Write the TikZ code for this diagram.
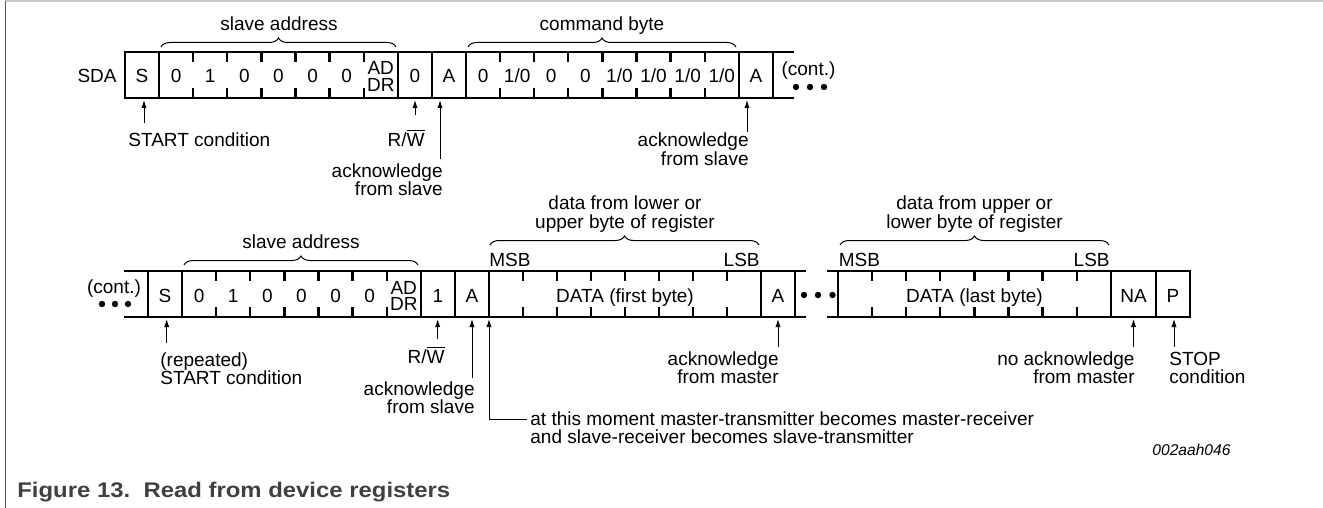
\documentclass[tikz,border=0pt]{standalone}
\usepackage{fontspec}
\setmainfont{Liberation Sans}
\usetikzlibrary{arrows.meta,decorations.pathreplacing}
\definecolor{topgray}{RGB}{200,200,200}
\definecolor{leftgray}{RGB}{85,85,85}
\definecolor{capgray}{RGB}{64,64,64}
\begin{document}
\begin{tikzpicture}[x=0.5pt,y=-0.5pt,
  bus/.style={line width=1.15pt,line cap=rect},
  tick/.style={line width=1.15pt},
  arr/.style={line width=0.5pt,-{Latex[length=4pt,width=2.6pt]}},
  brc/.style={line width=0.5pt,decorate,decoration={brace,amplitude=4.5pt}},
  txt/.style={inner sep=0pt,font=\fontsize{9.5pt}{11pt}\selectfont},
  cell/.style={txt,anchor=base}]
\useasboundingbox (0,0) rectangle (1323,508);
% frame
\draw[topgray,line width=1pt] (5,1.5) -- (1323,1.5);
\draw[leftgray,line width=0.7pt] (5.7,1) -- (5.7,508);

% ---------------- top row ----------------
\node[txt,anchor=base east] (sda) at (117,82.5) {SDA};
\foreach \i in {0,1,8,9,10,18,19} \draw[bus] ({125+34.1*\i},52) -- ({125+34.1*\i},98);
\draw[bus] (125,52) -- (793,52);
\draw[bus] (125,98) -- (793,98);
\foreach \i in {2,3,4,5,6,7,11,12,13,14,15,16,17}
  \draw[tick] ({125+34.1*\i},52) -- ++(0,10) ({125+34.1*\i},98) -- ++(0,-10);
\foreach \i/\lab in {0/S,1/0,2/1,3/0,4/0,5/0,6/0,8/0,9/A,10/0,11/{1/0},12/0,13/0,14/{1/0},15/{1/0},16/{1/0},17/{1/0},18/A}
  \node[cell] (t\i) at ({125+34.1*(\i+0.5)},82.5) {\lab};
\node[cell] (t7a) at ({125+34.1*7.5},75) {AD};
\node[cell] (t7b) at ({125+34.1*7.5},91.7) {DR};
\node[cell] (tcont) at (808.5,76) {(cont.)};
\foreach \x in {796,810,824} \fill (\x,87) circle (1.6pt);

\draw[brc] (161,47) -- (396,47);
\node[cell] (tsa) at (279,30.5) {slave address};
\draw[brc] (468,47) -- (736,47);
\node[cell] (tcb) at (602,30.5) {command byte};

\coordinate (ta1) at (144,100); \coordinate (ta1e) at (144,123);
\draw[arr] (ta1e) -- (ta1);
\node[txt,anchor=base west] (tl1) at (128,146.5) {START condition};
\coordinate (ta2) at (415,100); \coordinate (ta2e) at (415,115);
\draw[arr] (ta2e) -- (ta2);
\node[txt,anchor=base east] (tl2) at (425,146.5) {R/$\overline{\hbox{W}}$};
\coordinate (ta3) at (440,100); \coordinate (ta3e) at (440,159);
\draw[arr] (ta3e) -- (ta3);
\node[txt,anchor=base east] (tl3a) at (443,177) {acknowledge};
\node[txt,anchor=base east] (tl3b) at (443,195.5) {from slave};
\coordinate (ta4) at (747,100); \coordinate (ta4e) at (747,132);
\draw[arr] (ta4e) -- (ta4);
\node[txt,anchor=base east] (tl4a) at (749,146.5) {acknowledge};
\node[txt,anchor=base east] (tl4b) at (749,165) {from slave};

% ---------------- bottom row ----------------
\draw[bus] (125,271) -- (805,271);
\draw[bus] (125,317) -- (805,317);
\draw[bus] (828,271) -- (1190,271);
\draw[bus] (828,317) -- (1190,317);
\foreach \x in {148,182.1,420.8,454.9,489,761,795,838,1111,1156,1190}
  \draw[bus] (\x,271) -- (\x,317);
\foreach \x in {216.2,250.3,284.4,318.5,352.6,386.7,523,557,591,625,659,693,727,872.1,906.2,940.3,974.4,1008.5,1042.6,1076.7}
  \draw[tick] (\x,271) -- ++(0,10) (\x,317) -- ++(0,-10);
\foreach \i/\lab in {0/S,1/0,2/1,3/0,4/0,5/0,6/0,8/1,9/A}
  \node[cell] (b\i) at ({148+34.1*(\i+0.5)},302) {\lab};
\node[cell] (b7a) at ({148+34.1*7.5},294) {AD};
\node[cell] (b7b) at ({148+34.1*7.5},310.7) {DR};
\node[cell] (bd1) at (625,302) {DATA (first byte)};
\node[cell] (ba1) at (778,302) {A};
\node[cell] (bd2) at (974.5,302) {DATA (last byte)};
\node[cell] (bna) at (1133.5,302) {NA};
\node[cell] (bp) at (1173,302) {P};
\node[cell] (bcont) at (114,293) {(cont.)};
\foreach \x in {102,115,128} \fill (\x,304) circle (1.6pt);
\foreach \x in {804,818,832.5} \fill (\x,295) circle (1.6pt);

\node[txt,anchor=base west] (msb1) at (489,266) {MSB};
\node[txt,anchor=base east] (lsb1) at (760,266) {LSB};
\node[txt,anchor=base west] (msb2) at (838.5,266) {MSB};
\node[txt,anchor=base east] (lsb2) at (1110,266) {LSB};

\draw[brc] (184,265) -- (418,265);
\node[cell] (bsa) at (301,248) {slave address};
\draw[brc] (490,245) -- (759,245);
\node[cell] (bdl1) at (625,209.5) {data from lower or};
\node[cell] (bdl2) at (625,228) {upper byte of register};
\draw[brc] (840,245) -- (1109,245);
\node[cell] (bdu1) at (974.5,209.5) {data from upper or};
\node[cell] (bdu2) at (974.5,228) {lower byte of register};

\coordinate (ba1t) at (166.7,319); \coordinate (ba1e) at (166.7,343);
\draw[arr] (ba1e) -- (ba1t);
\node[txt,anchor=base west] (bl1a) at (160,366) {(repeated)};
\node[txt,anchor=base west] (bl1b) at (160,384) {START condition};
\coordinate (ba2t) at (437.7,319); \coordinate (ba2e) at (437.7,339);
\draw[arr] (ba2e) -- (ba2t);
\node[txt,anchor=base east] (bl2) at (445,363.5) {R/$\overline{\hbox{W}}$};
\coordinate (ba3t) at (472,319); \coordinate (ba3e) at (472,378);
\draw[arr] (ba3e) -- (ba3t);
\node[txt,anchor=base east] (bl3a) at (475,395.5) {acknowledge};
\node[txt,anchor=base east] (bl3b) at (475,413.5) {from slave};
\coordinate (bmt) at (489,319); \coordinate (bmc) at (489,419.3); \coordinate (bme) at (527,419.3);
\draw[arr] (bme) -- (bmc) -- (bmt);
\node[txt,anchor=base west] (bm1) at (530,425) {at this moment master-transmitter becomes master-receiver};
\node[txt,anchor=base west] (bm2) at (530,443) {and slave-receiver becomes slave-transmitter};
\coordinate (ba4t) at (778,319); \coordinate (ba4e) at (778,347);
\draw[arr] (ba4e) -- (ba4t);
\node[txt,anchor=base east] (bl4a) at (779,365.5) {acknowledge};
\node[txt,anchor=base east] (bl4b) at (779,383.5) {from master};
\coordinate (ba5t) at (1133.5,319); \coordinate (ba5e) at (1133.5,347);
\draw[arr] (ba5e) -- (ba5t);
\node[txt,anchor=base east] (bl5a) at (1135,365.5) {no acknowledge};
\node[txt,anchor=base east] (bl5b) at (1135,383.5) {from master};
\coordinate (ba6t) at (1174,319); \coordinate (ba6e) at (1174,347);
\draw[arr] (ba6e) -- (ba6t);
\node[txt,anchor=base west] (bl6a) at (1169,365.5) {STOP};
\node[txt,anchor=base west] (bl6b) at (1169,383.5) {condition};

\node[inner sep=0pt,anchor=base west,font=\fontsize{7.8pt}{9pt}\selectfont\itshape] (fid) at (1152,455.5) {002aah046};
\node[inner sep=0pt,anchor=base west,text=capgray,font=\fontsize{10.6pt}{12pt}\selectfont\bfseries] (cap) at (17,497) {\scalebox{1.127}[1]{Figure 13.\ \ Read from device registers}};
\end{tikzpicture}
\end{document}
